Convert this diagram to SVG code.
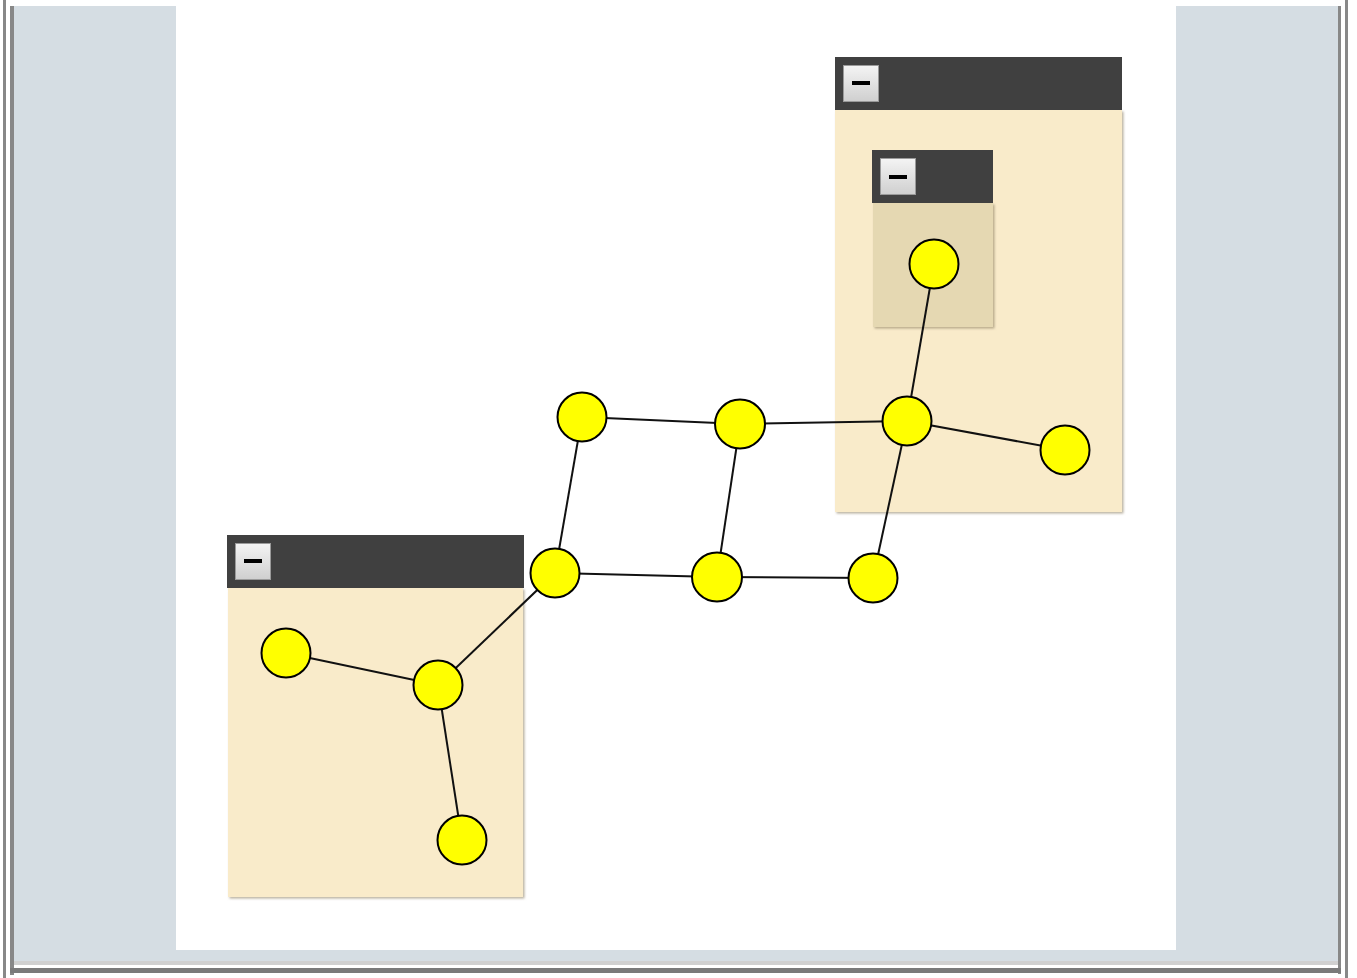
<svg xmlns="http://www.w3.org/2000/svg" width="1357" height="978" viewBox="0 0 1357 978">
<defs>
<linearGradient id="btn" x1="0" y1="0" x2="0" y2="1"><stop offset="0" stop-color="#f4f4f4"/><stop offset="1" stop-color="#cfcfcf"/></linearGradient>
<filter id="sh" x="-5%" y="-5%" width="110%" height="110%"><feDropShadow dx="1.5" dy="1.5" stdDeviation="0.8" flood-color="#8a7f60" flood-opacity="0.6"/></filter>
</defs>
<style>
.title{fill:#404040}
.body{fill:#f9ebca}
.inner{fill:#e5d8b2}
.bt{fill:url(#btn);stroke:#9a9a9a;stroke-width:1}
.dash{stroke:#000;stroke-width:4}
.node{fill:#ffff00;stroke:#000;stroke-width:2}
.edge{stroke:#111;stroke-width:2;fill:none}
</style>
<rect width="1357" height="978" fill="#ffffff"/>
<g id="frame">
<rect x="14" y="6" width="1324" height="955" fill="#d5dde3"/>
<rect x="176" y="6" width="1000" height="944" fill="#ffffff"/>
<rect x="3" y="0" width="3" height="978" fill="#888"/>
<rect x="10" y="6" width="4" height="969" fill="#888"/>
<rect x="1338" y="6" width="3" height="968" fill="#888"/>
<rect x="1345" y="0" width="3" height="978" fill="#888"/>
<rect x="14" y="961" width="1324" height="4" fill="#d0d0d0"/>
<rect x="10" y="968" width="1331" height="5" fill="#7a7a7a"/>
</g>
<g id="groupA">
<rect x="835" y="110" width="287" height="402" class="body" filter="url(#sh)"/>
<rect x="835" y="57" width="287" height="53" class="title"/>
<rect x="843.5" y="65.5" width="35" height="36" class="bt"/>
<line x1="852" y1="83" x2="870" y2="83" class="dash"/>
</g>
<g id="groupB">
<rect x="873" y="203" width="120" height="124" class="inner" filter="url(#sh)"/>
<rect x="872" y="150" width="121" height="53" class="title"/>
<rect x="880.5" y="158.5" width="35" height="36" class="bt"/>
<line x1="889" y1="177" x2="907" y2="177" class="dash"/>
</g>
<g id="groupC">
<rect x="228" y="588" width="295" height="309" class="body" filter="url(#sh)"/>
<rect x="227" y="535" width="297" height="53" class="title"/>
<rect x="235.5" y="543.5" width="35" height="36" class="bt"/>
<line x1="244" y1="561" x2="262" y2="561" class="dash"/>
</g>
<g id="connectors">
<line x1="582" y1="417" x2="740" y2="424" class="edge"/>
<line x1="740" y1="424" x2="907" y2="421" class="edge"/>
<line x1="907" y1="421" x2="1065" y2="450" class="edge"/>
<line x1="907" y1="421" x2="934" y2="264" class="edge"/>
<line x1="582" y1="417" x2="555" y2="573" class="edge"/>
<line x1="740" y1="424" x2="717" y2="577" class="edge"/>
<line x1="907" y1="421" x2="873" y2="578" class="edge"/>
<line x1="555" y1="573" x2="717" y2="577" class="edge"/>
<line x1="717" y1="577" x2="873" y2="578" class="edge"/>
<line x1="555" y1="573" x2="438" y2="685" class="edge"/>
<line x1="438" y1="685" x2="286" y2="653" class="edge"/>
<line x1="438" y1="685" x2="462" y2="840" class="edge"/>
</g>
<g id="n1"><ellipse cx="582" cy="417" rx="24.5" ry="24.5" class="node"/></g>
<g id="n2"><ellipse cx="740" cy="424" rx="25" ry="24.5" class="node"/></g>
<g id="n3"><ellipse cx="907" cy="421" rx="24.5" ry="24.5" class="node"/></g>
<g id="n4"><ellipse cx="1065" cy="450" rx="24.5" ry="24.5" class="node"/></g>
<g id="n5"><ellipse cx="934" cy="264" rx="24.5" ry="24.5" class="node"/></g>
<g id="n6"><ellipse cx="555" cy="573" rx="24.5" ry="24.5" class="node"/></g>
<g id="n7"><ellipse cx="717" cy="577" rx="25" ry="24.5" class="node"/></g>
<g id="n8"><ellipse cx="873" cy="578" rx="24.5" ry="24.5" class="node"/></g>
<g id="n9"><ellipse cx="286" cy="653" rx="24.5" ry="24.5" class="node"/></g>
<g id="n10"><ellipse cx="438" cy="685" rx="24.5" ry="24.5" class="node"/></g>
<g id="n11"><ellipse cx="462" cy="840" rx="24.5" ry="24.5" class="node"/></g>
</svg>
